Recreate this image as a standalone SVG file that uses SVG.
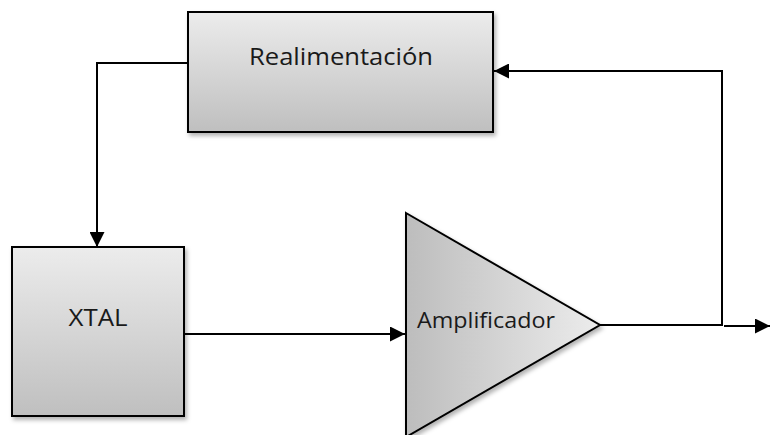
<svg xmlns="http://www.w3.org/2000/svg" width="770" height="435" viewBox="0 0 770 435">
  <style>
    .box { stroke: #000; stroke-width: 2; }
    .lbl { font-family: "Open Sans", "Noto Sans", "Liberation Sans", sans-serif; fill: #1a1a1a; }
    .wire { fill: none; stroke: #000; stroke-width: 2; }
  </style>
  <defs>
    <linearGradient id="gv" x1="0" y1="0" x2="0" y2="1">
      <stop offset="0" stop-color="#ececec"/>
      <stop offset="1" stop-color="#bfbfbf"/>
    </linearGradient>
    <linearGradient id="gh" x1="0" y1="0" x2="1" y2="0">
      <stop offset="0" stop-color="#bdbdbd"/>
      <stop offset="1" stop-color="#ececec"/>
    </linearGradient>
    <filter id="sh" x="-10%" y="-10%" width="125%" height="125%">
      <feDropShadow dx="2" dy="3" stdDeviation="2" flood-color="#000" flood-opacity="0.3"/>
    </filter>
    <marker id="arr" viewBox="0 0 10 10" refX="10" refY="5" markerWidth="8" markerHeight="7.5" orient="auto" markerUnits="strokeWidth">
      <path d="M0,0 L10,5 L0,10 z" fill="#000"/>
    </marker>
  </defs>

  <g id="connectors">
    <polyline class="wire" points="188,63 97,63 97,247" marker-end="url(#arr)"/>
    <line class="wire" x1="184" y1="334" x2="405" y2="334" marker-end="url(#arr)"/>
    <polyline class="wire" points="600,325 722,325 722,71 494,71" marker-end="url(#arr)"/>
    <line class="wire" x1="724" y1="326" x2="770" y2="326" marker-end="url(#arr)"/>
  </g>

  <g id="realimentacion">
    <rect class="box" x="188" y="12" width="305" height="120" fill="url(#gv)" filter="url(#sh)"/>
    <text class="lbl" x="249" y="65" font-size="24" textLength="184" lengthAdjust="spacingAndGlyphs">Realimentación</text>
  </g>

  <g id="xtal">
    <rect class="box" x="12" y="247" width="172" height="169" fill="url(#gv)" filter="url(#sh)"/>
    <text class="lbl" x="98" y="326" font-size="24" text-anchor="middle" textLength="59" lengthAdjust="spacingAndGlyphs">XTAL</text>
  </g>

  <g id="amplificador">
    <polygon class="box" points="406,213 600,325 406,437" fill="url(#gh)" filter="url(#sh)"/>
    <text class="lbl" x="417" y="328" font-size="21" textLength="138" lengthAdjust="spacingAndGlyphs">Amplificador</text>
  </g>
</svg>
